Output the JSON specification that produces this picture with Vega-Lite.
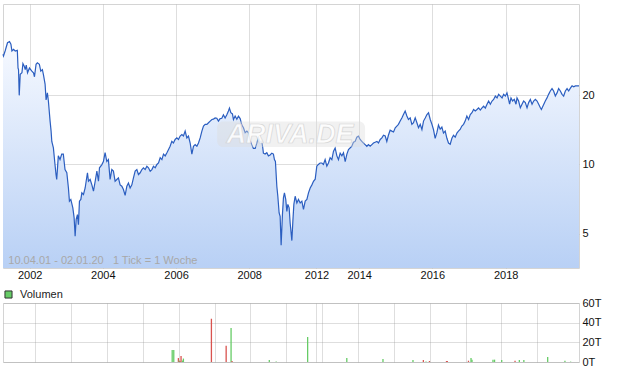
{
  "$schema": "https://vega.github.io/schema/vega-lite/v6.json",
  "background": "white",
  "padding": {"left": 0, "top": 3, "right": 5, "bottom": 3},
  "spacing": 15,
  "datasets": {
    "price": [
      {"date":"2001-04-10","price":30.2},{"date":"2001-04-15","price":29.7},{"date":"2001-05-01","price":31.2},{"date":"2001-05-25","price":33.9},{"date":"2001-06-14","price":34.3},{"date":"2001-06-28","price":33.4},{"date":"2001-07-08","price":31.2},{"date":"2001-07-24","price":31.7},{"date":"2001-08-10","price":31.2},{"date":"2001-08-31","price":31.4},{"date":"2001-09-07","price":26.3},{"date":"2001-09-12","price":25.9},{"date":"2001-09-19","price":20.0},{"date":"2001-09-29","price":24.7},{"date":"2001-10-16","price":25.1},{"date":"2001-10-26","price":27.5},{"date":"2001-11-08","price":26.8},{"date":"2001-11-18","price":25.9},{"date":"2001-11-28","price":27.1},{"date":"2001-12-11","price":25.1},{"date":"2001-12-30","price":26.3},
      {"date":"2002-01-23","price":25.5},{"date":"2002-02-08","price":25.1},{"date":"2002-02-18","price":24.1},{"date":"2002-03-06","price":27.3},{"date":"2002-03-19","price":27.7},{"date":"2002-04-08","price":27.3},{"date":"2002-04-22","price":25.5},{"date":"2002-05-08","price":25.9},{"date":"2002-05-18","price":24.7},{"date":"2002-06-04","price":22.4},{"date":"2002-06-14","price":19.1},{"date":"2002-06-27","price":20.5},{"date":"2002-07-07","price":18.9},{"date":"2002-07-24","price":15.45},{"date":"2002-08-03","price":13.97},{"date":"2002-08-10","price":12.6},{"date":"2002-08-26","price":11.8},{"date":"2002-09-11","price":9.99},{"date":"2002-09-21","price":9.04},{"date":"2002-09-28","price":8.6},{"date":"2002-10-04","price":9.35},{"date":"2002-10-14","price":10.9},{"date":"2002-10-31","price":10.5},{"date":"2002-11-17","price":11.1},{"date":"2002-12-03","price":11.1},{"date":"2002-12-20","price":9.5},
      {"date":"2003-01-07","price":9.2},{"date":"2003-01-23","price":7.9},{"date":"2003-02-02","price":6.92},{"date":"2003-02-16","price":7.04},{"date":"2003-03-08","price":6.47},{"date":"2003-03-21","price":5.85},{"date":"2003-03-31","price":4.87},{"date":"2003-04-10","price":5.75},{"date":"2003-04-23","price":6.05},{"date":"2003-05-03","price":5.47},{"date":"2003-05-13","price":6.92},{"date":"2003-05-27","price":7.04},{"date":"2003-06-06","price":7.52},{"date":"2003-06-22","price":7.4},{"date":"2003-07-09","price":7.9},{"date":"2003-07-19","price":8.45},{"date":"2003-08-01","price":9.2},{"date":"2003-08-11","price":8.45},{"date":"2003-08-28","price":8.6},{"date":"2003-09-14","price":8.15},{"date":"2003-09-30","price":7.65},{"date":"2003-10-17","price":8.45},{"date":"2003-11-03","price":9.35},{"date":"2003-11-19","price":8.45},{"date":"2003-11-29","price":9.67},{"date":"2003-12-23","price":9.99},
      {"date":"2004-01-07","price":10.3},{"date":"2004-01-24","price":11.25},{"date":"2004-02-10","price":10.3},{"date":"2004-02-26","price":10.5},{"date":"2004-03-14","price":8.6},{"date":"2004-03-31","price":9.5},{"date":"2004-04-16","price":9.35},{"date":"2004-05-03","price":8.45},{"date":"2004-05-20","price":8.6},{"date":"2004-06-05","price":8.74},{"date":"2004-06-22","price":8.15},{"date":"2004-07-09","price":8.04},{"date":"2004-07-25","price":7.78},{"date":"2004-08-11","price":7.34},{"date":"2004-08-28","price":8.04},{"date":"2004-09-13","price":8.3},{"date":"2004-09-30","price":7.9},{"date":"2004-10-17","price":8.15},{"date":"2004-11-02","price":8.74},{"date":"2004-11-19","price":9.35},{"date":"2004-12-06","price":9.5},{"date":"2004-12-22","price":9.04},
      {"date":"2005-01-08","price":9.2},{"date":"2005-01-25","price":9.5},{"date":"2005-02-10","price":9.67},{"date":"2005-02-27","price":9.5},{"date":"2005-03-16","price":9.83},{"date":"2005-04-01","price":9.67},{"date":"2005-04-18","price":9.35},{"date":"2005-05-05","price":9.5},{"date":"2005-05-21","price":9.83},{"date":"2005-06-07","price":9.67},{"date":"2005-06-24","price":10.0},{"date":"2005-07-10","price":10.15},{"date":"2005-07-27","price":10.7},{"date":"2005-08-13","price":10.5},{"date":"2005-08-29","price":11.1},{"date":"2005-09-15","price":10.9},{"date":"2005-10-02","price":11.25},{"date":"2005-10-17","price":11.6},{"date":"2005-11-03","price":12.0},{"date":"2005-11-20","price":12.6},{"date":"2005-12-06","price":12.4},{"date":"2005-12-23","price":12.85},
      {"date":"2006-01-09","price":13.05},{"date":"2006-01-25","price":12.85},{"date":"2006-02-11","price":13.3},{"date":"2006-02-28","price":13.5},{"date":"2006-03-16","price":13.3},{"date":"2006-04-02","price":13.97},{"date":"2006-04-19","price":13.05},{"date":"2006-05-05","price":13.3},{"date":"2006-05-22","price":12.4},{"date":"2006-06-08","price":11.1},{"date":"2006-06-24","price":12.0},{"date":"2006-07-11","price":12.2},{"date":"2006-07-28","price":12.0},{"date":"2006-08-13","price":12.4},{"date":"2006-08-30","price":13.05},{"date":"2006-09-16","price":13.97},{"date":"2006-10-02","price":14.7},{"date":"2006-10-19","price":14.95},{"date":"2006-11-05","price":14.95},{"date":"2006-11-21","price":15.2},{"date":"2006-12-08","price":15.45},{"date":"2006-12-25","price":15.7},
      {"date":"2007-01-09","price":15.75},{"date":"2007-01-26","price":15.95},{"date":"2007-02-12","price":15.9},{"date":"2007-02-28","price":15.45},{"date":"2007-03-17","price":15.85},{"date":"2007-04-03","price":15.9},{"date":"2007-04-19","price":16.45},{"date":"2007-05-06","price":15.95},{"date":"2007-05-23","price":16.45},{"date":"2007-06-08","price":17.1},{"date":"2007-06-18","price":17.6},{"date":"2007-07-02","price":16.8},{"date":"2007-07-18","price":16.6},{"date":"2007-07-28","price":15.7},{"date":"2007-08-14","price":16.25},{"date":"2007-08-31","price":15.75},{"date":"2007-09-16","price":16.25},{"date":"2007-10-03","price":15.85},{"date":"2007-10-20","price":14.85},{"date":"2007-11-05","price":14.45},{"date":"2007-11-22","price":13.75},{"date":"2007-12-09","price":13.97},{"date":"2007-12-25","price":13.75},
      {"date":"2008-01-10","price":12.75},{"date":"2008-01-27","price":12.2},{"date":"2008-02-12","price":11.75},{"date":"2008-03-01","price":11.75},{"date":"2008-03-17","price":12.35},{"date":"2008-04-02","price":13.15},{"date":"2008-04-19","price":12.6},{"date":"2008-05-06","price":12.6},{"date":"2008-05-16","price":11.8},{"date":"2008-05-22","price":11.2},{"date":"2008-06-08","price":11.1},{"date":"2008-06-25","price":11.25},{"date":"2008-07-11","price":10.9},{"date":"2008-07-28","price":11.0},{"date":"2008-08-14","price":11.2},{"date":"2008-08-30","price":11.1},{"date":"2008-09-09","price":10.5},{"date":"2008-09-19","price":10.3},{"date":"2008-10-03","price":8.04},{"date":"2008-10-13","price":7.27},{"date":"2008-10-26","price":6.15},{"date":"2008-11-05","price":5.95},{"date":"2008-11-15","price":4.45},{"date":"2008-11-28","price":6.05},{"date":"2008-12-08","price":7.15},{"date":"2008-12-18","price":7.52},{"date":"2008-12-31","price":7.04},
      {"date":"2009-01-11","price":6.25},{"date":"2009-01-21","price":6.7},{"date":"2009-02-03","price":6.47},{"date":"2009-02-13","price":5.56},{"date":"2009-03-02","price":4.66},{"date":"2009-03-12","price":5.66},{"date":"2009-03-22","price":6.7},{"date":"2009-04-04","price":7.27},{"date":"2009-04-21","price":6.8},{"date":"2009-05-07","price":7.04},{"date":"2009-05-24","price":6.8},{"date":"2009-06-10","price":6.92},{"date":"2009-06-26","price":6.37},{"date":"2009-07-13","price":6.92},{"date":"2009-07-30","price":7.04},{"date":"2009-08-15","price":7.52},{"date":"2009-09-01","price":7.9},{"date":"2009-09-18","price":8.15},{"date":"2009-10-04","price":8.45},{"date":"2009-10-21","price":8.63},
      {"date":"2012-11-05","price":9.83},{"date":"2012-11-21","price":10.0},{"date":"2012-12-08","price":10.15},{"date":"2012-12-25","price":10.15},
      {"date":"2013-01-10","price":10.0},{"date":"2013-01-27","price":10.5},{"date":"2013-02-13","price":9.83},{"date":"2013-03-01","price":10.15},{"date":"2013-03-18","price":10.7},{"date":"2013-04-04","price":10.5},{"date":"2013-04-20","price":11.4},{"date":"2013-05-07","price":11.8},{"date":"2013-05-24","price":10.9},{"date":"2013-06-09","price":10.5},{"date":"2013-06-26","price":11.2},{"date":"2013-07-13","price":10.9},{"date":"2013-07-29","price":11.25},{"date":"2013-08-15","price":10.3},{"date":"2013-09-01","price":11.1},{"date":"2013-09-17","price":11.6},{"date":"2013-10-03","price":11.8},{"date":"2013-10-20","price":12.0},{"date":"2013-11-05","price":12.5},{"date":"2013-11-22","price":12.6},{"date":"2013-12-09","price":13.15},{"date":"2013-12-25","price":13.3},
      {"date":"2014-01-11","price":12.85},{"date":"2014-01-28","price":12.6},{"date":"2014-02-13","price":12.4},{"date":"2014-03-02","price":12.2},{"date":"2014-03-19","price":12.0},{"date":"2014-04-04","price":12.2},{"date":"2014-04-21","price":12.0},{"date":"2014-05-08","price":12.2},{"date":"2014-05-24","price":12.4},{"date":"2014-06-10","price":12.5},{"date":"2014-06-27","price":12.6},{"date":"2014-07-13","price":12.4},{"date":"2014-07-30","price":12.85},{"date":"2014-08-16","price":13.05},{"date":"2014-09-01","price":13.4},{"date":"2014-09-18","price":13.3},{"date":"2014-10-04","price":12.6},{"date":"2014-10-20","price":13.4},{"date":"2014-11-06","price":14.1},{"date":"2014-11-23","price":13.97},{"date":"2014-12-10","price":13.85},{"date":"2014-12-27","price":14.45},
      {"date":"2015-01-12","price":14.7},{"date":"2015-01-28","price":14.95},{"date":"2015-02-14","price":15.45},{"date":"2015-03-03","price":15.95},{"date":"2015-03-19","price":16.5},{"date":"2015-04-05","price":17.1},{"date":"2015-04-22","price":16.25},{"date":"2015-05-08","price":15.7},{"date":"2015-05-25","price":15.95},{"date":"2015-06-11","price":14.95},{"date":"2015-06-27","price":15.2},{"date":"2015-07-14","price":15.95},{"date":"2015-07-31","price":15.2},{"date":"2015-08-16","price":14.45},{"date":"2015-09-02","price":14.95},{"date":"2015-09-19","price":14.2},{"date":"2015-10-05","price":15.45},{"date":"2015-10-22","price":15.95},{"date":"2015-11-08","price":16.5},{"date":"2015-11-24","price":16.8},{"date":"2015-12-11","price":15.7},{"date":"2015-12-28","price":14.95},
      {"date":"2016-01-12","price":14.2},{"date":"2016-01-29","price":13.0},{"date":"2016-02-15","price":13.75},{"date":"2016-03-02","price":14.85},{"date":"2016-03-19","price":14.25},{"date":"2016-04-05","price":14.55},{"date":"2016-04-21","price":13.7},{"date":"2016-05-08","price":13.97},{"date":"2016-05-25","price":13.0},{"date":"2016-06-10","price":12.4},{"date":"2016-06-27","price":12.25},{"date":"2016-07-14","price":13.0},{"date":"2016-07-30","price":13.4},{"date":"2016-08-16","price":13.15},{"date":"2016-09-02","price":13.7},{"date":"2016-09-17","price":13.97},{"date":"2016-10-04","price":14.2},{"date":"2016-10-21","price":14.7},{"date":"2016-11-07","price":14.95},{"date":"2016-11-23","price":15.45},{"date":"2016-12-10","price":16.25},{"date":"2016-12-27","price":15.7},
      {"date":"2017-01-13","price":16.5},{"date":"2017-01-30","price":16.8},{"date":"2017-02-15","price":17.35},{"date":"2017-03-04","price":17.1},{"date":"2017-03-21","price":17.35},{"date":"2017-04-06","price":17.65},{"date":"2017-04-23","price":17.25},{"date":"2017-05-10","price":17.65},{"date":"2017-05-26","price":17.96},{"date":"2017-06-12","price":17.6},{"date":"2017-06-29","price":18.3},{"date":"2017-07-15","price":18.9},{"date":"2017-08-01","price":18.3},{"date":"2017-08-18","price":18.9},{"date":"2017-09-03","price":19.2},{"date":"2017-09-20","price":19.86},{"date":"2017-10-07","price":19.5},{"date":"2017-10-23","price":20.2},{"date":"2017-11-09","price":19.86},{"date":"2017-11-26","price":19.5},{"date":"2017-12-12","price":20.2},{"date":"2017-12-29","price":19.86},
      {"date":"2018-01-14","price":20.5},{"date":"2018-01-30","price":19.2},{"date":"2018-02-09","price":18.3},{"date":"2018-02-23","price":19.5},{"date":"2018-03-11","price":18.9},{"date":"2018-03-28","price":19.2},{"date":"2018-04-14","price":18.3},{"date":"2018-04-24","price":19.5},{"date":"2018-05-10","price":18.9},{"date":"2018-05-27","price":17.65},{"date":"2018-06-13","price":18.3},{"date":"2018-06-29","price":18.9},{"date":"2018-07-16","price":18.6},{"date":"2018-08-02","price":17.65},{"date":"2018-08-18","price":18.6},{"date":"2018-09-04","price":19.2},{"date":"2018-09-21","price":18.3},{"date":"2018-10-07","price":18.9},{"date":"2018-10-24","price":19.2},{"date":"2018-11-10","price":18.9},{"date":"2018-11-26","price":18.3},{"date":"2018-12-13","price":17.65},{"date":"2018-12-23","price":17.35},
      {"date":"2019-01-08","price":17.96},{"date":"2019-01-31","price":18.9},{"date":"2019-02-17","price":19.5},{"date":"2019-03-05","price":20.2},{"date":"2019-03-22","price":20.9},{"date":"2019-04-08","price":21.4},{"date":"2019-04-24","price":20.9},{"date":"2019-05-11","price":19.86},{"date":"2019-05-28","price":20.5},{"date":"2019-06-13","price":21.4},{"date":"2019-06-30","price":20.9},{"date":"2019-07-17","price":20.2},{"date":"2019-08-02","price":19.86},{"date":"2019-08-19","price":20.9},{"date":"2019-09-05","price":21.4},{"date":"2019-09-21","price":20.9},{"date":"2019-10-08","price":21.5},{"date":"2019-10-25","price":22.0},{"date":"2019-11-10","price":21.8},{"date":"2019-11-27","price":22.0},{"date":"2019-12-14","price":22.0},{"date":"2020-01-02","price":22.0}
    ],
    "volume": [
      {"date":"2005-10-27","volume":12300,"dir":"up"},{"date":"2005-11-12","volume":12300,"dir":"up"},{"date":"2005-12-29","volume":4000,"dir":"down"},{"date":"2006-01-06","volume":1500,"dir":"up"},{"date":"2006-01-14","volume":1000,"dir":"down"},{"date":"2006-01-25","volume":6000,"dir":"down"},{"date":"2006-02-08","volume":1500,"dir":"up"},{"date":"2006-02-18","volume":3500,"dir":"up"},{"date":"2006-11-30","volume":44000,"dir":"down"},{"date":"2007-04-29","volume":16400,"dir":"down"},{"date":"2007-06-18","volume":34700,"dir":"up"},{"date":"2007-06-28","volume":1000,"dir":"down"},{"date":"2008-07-11","volume":2000,"dir":"up"},{"date":"2008-09-19","volume":400,"dir":"up"},{"date":"2009-08-05","volume":25400,"dir":"up"},{"date":"2013-09-07","volume":4000,"dir":"up"},{"date":"2014-09-11","volume":3000,"dir":"up"},{"date":"2015-07-14","volume":2000,"dir":"up"},{"date":"2015-10-28","volume":2000,"dir":"down"},{"date":"2015-11-24","volume":500,"dir":"up"},{"date":"2015-12-29","volume":1000,"dir":"down"},{"date":"2016-06-20","volume":1000,"dir":"down"},{"date":"2016-06-28","volume":1000,"dir":"down"},{"date":"2017-01-30","volume":1300,"dir":"down"},{"date":"2017-02-25","volume":4000,"dir":"up"},{"date":"2017-03-07","volume":2400,"dir":"up"},{"date":"2017-10-07","volume":2400,"dir":"up"},{"date":"2017-10-23","volume":2400,"dir":"up"},{"date":"2018-01-04","volume":2000,"dir":"up"},{"date":"2018-05-20","volume":1300,"dir":"down"},{"date":"2018-07-03","volume":2000,"dir":"up"},{"date":"2018-08-18","volume":2000,"dir":"up"},{"date":"2019-04-18","volume":5000,"dir":"up"},{"date":"2019-10-11","volume":1300,"dir":"up"},{"date":"2019-12-08","volume":400,"dir":"up"}
    ]
  },
  "config": {
    "view": {"stroke": "#d4d4d4"},
    "font": "Liberation Sans",
    "axis": {"labelFont": "Liberation Sans", "labelFontSize": 11, "labelColor": "#111111", "gridColor": "#999999", "gridOpacity": 0.32, "domain": false, "ticks": false, "zindex": 1, "title": null}
  },
  "vconcat": [
    {
      "width": 576,
      "height": 264,
      "layer": [
        {
          "data": {"name": "price"},
          "mark": {"type": "area", "color": {"gradient": "linear", "x1": 0, "y1": 0, "x2": 0, "y2": 1, "stops": [{"offset": 0, "color": "#f6f9ff"}, {"offset": 1, "color": "#b8d0f5"}]}},
          "encoding": {
            "x": {"field": "date", "type": "temporal",
              "scale": {"domain": {"expr": "[datetime(2001,3,10), datetime(2009,9,25), datetime(2012,10,4), datetime(2020,0,2)]"}, "range": [0, 312.6, 313.7, 576], "nice": false},
              "axis": {"values": [{"year":2002,"month":1,"date":1},{"year":2003,"month":1,"date":1},{"year":2004,"month":1,"date":1},{"year":2005,"month":1,"date":1},{"year":2006,"month":1,"date":1},{"year":2007,"month":1,"date":1},{"year":2008,"month":1,"date":1},{"year":2009,"month":1,"date":1},{"year":2012,"month":1,"date":1},{"year":2013,"month":1,"date":1},{"year":2014,"month":1,"date":1},{"year":2015,"month":1,"date":1},{"year":2016,"month":1,"date":1},{"year":2017,"month":1,"date":1},{"year":2018,"month":1,"date":1},{"year":2019,"month":1,"date":1}],
                "labelExpr": "indexof([2002,2004,2006,2008,2012,2014,2016,2018], year(datum.value)) >= 0 ? timeFormat(datum.value, '%Y') : ''",
                "labelOverlap": false, "labelFlush": false, "grid": true, "labelPadding": 1}},
            "y": {"field": "price", "type": "quantitative",
              "scale": {"type": "log", "domain": [3.54, 50], "nice": false},
              "axis": {"orient": "right", "values": [5, 10, 20], "format": "d", "grid": true, "labelPadding": 3}},
            "y2": {"datum": 3.54}
          }
        },
        {
          "data": {"name": "price"},
          "mark": {"type": "line", "color": "#2b5ec0", "strokeWidth": 1.2},
          "encoding": {
            "x": {"field": "date", "type": "temporal"},
            "y": {"field": "price", "type": "quantitative"}
          }
        },
        {
          "data": {"values": [{}]},
          "mark": {"type": "rect", "color": "#dcdcdc", "opacity": 0.4, "cornerRadius": 6},
          "encoding": {
            "x": {"datum": {"year":2007,"month":2,"date":15}, "type": "temporal"},
            "x2": {"datum": {"year":2014,"month":3,"date":1}},
            "y": {"datum": 15.4, "type": "quantitative"},
            "y2": {"datum": 11.9}
          }
        },
        {
          "data": {"values": [{}]},
          "mark": {"type": "text", "text": "ARIVA.DE", "font": "Liberation Sans", "fontSize": 27, "fontStyle": "italic", "fontWeight": "bold", "color": "#ffffff", "stroke": "#d2d2d2", "strokeWidth": 0.7, "opacity": 0.85, "align": "center", "baseline": "middle"},
          "encoding": {
            "x": {"datum": {"year":2009,"month":2,"date":12}, "type": "temporal"},
            "y": {"datum": 13.5, "type": "quantitative"}
          }
        },
        {
          "data": {"values": [{}]},
          "mark": {"type": "text", "text": "10.04.01 - 02.01.20 \u00a0 1 Tick = 1 Woche", "font": "Liberation Sans", "fontSize": 11, "color": "#a8a8a8", "align": "left", "baseline": "alphabetic"},
          "encoding": {
            "x": {"datum": {"year":2001,"month":6,"date":2}, "type": "temporal"},
            "y": {"datum": 3.67, "type": "quantitative"}
          }
        }
      ]
    },
    {
      "width": 576,
      "height": 59,
      "data": {"name": "volume"},
      "mark": {"type": "bar", "size": 1.3},
      "encoding": {
        "x": {"field": "date", "type": "temporal",
          "scale": {"domain": {"expr": "[datetime(2001,3,10), datetime(2009,9,25), datetime(2012,10,4), datetime(2020,0,2)]"}, "range": [0, 312.6, 313.7, 576], "nice": false},
          "axis": {"values": [{"year":2002,"month":1,"date":1},{"year":2003,"month":1,"date":1},{"year":2004,"month":1,"date":1},{"year":2005,"month":1,"date":1},{"year":2006,"month":1,"date":1},{"year":2007,"month":1,"date":1},{"year":2008,"month":1,"date":1},{"year":2009,"month":1,"date":1},{"year":2012,"month":1,"date":1},{"year":2013,"month":1,"date":1},{"year":2014,"month":1,"date":1},{"year":2015,"month":1,"date":1},{"year":2016,"month":1,"date":1},{"year":2017,"month":1,"date":1},{"year":2018,"month":1,"date":1},{"year":2019,"month":1,"date":1}],
            "labels": false, "grid": true}},
        "y": {"field": "volume", "type": "quantitative",
          "scale": {"domain": [0, 60000], "nice": false},
          "axis": {"orient": "right", "values": [0, 20000, 40000, 60000], "labelExpr": "format(datum.value / 1000, 'd') + 'T'", "grid": true, "labelPadding": 3}},
        "color": {"field": "dir", "type": "nominal",
          "scale": {"domain": ["up", "down"], "range": ["#66cc66", "#d9534f"]},
          "legend": {"values": ["up"], "labelExpr": "'Volumen'", "title": null, "orient": "none", "legendX": 0, "legendY": 285, "symbolType": "square", "symbolSize": 50, "symbolStrokeColor": "#333333", "symbolStrokeWidth": 1, "labelFont": "Liberation Sans", "labelFontSize": 11, "labelColor": "#222222", "labelOffset": 6}}
      }
    }
  ]
}
